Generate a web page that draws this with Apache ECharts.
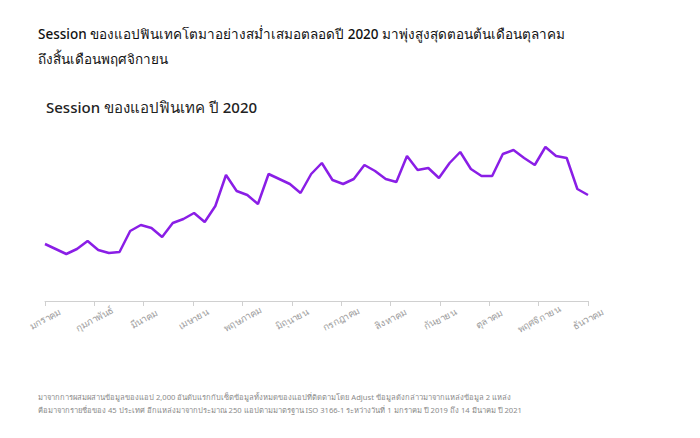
<!DOCTYPE html>
<html>
<head>
<meta charset="utf-8">
<script src="https://cdn.jsdelivr.net/npm/echarts@6/dist/echarts.min.js"></script>
<style>
  html, body { margin: 0; padding: 0; background: #fff; }
  #main { width: 700px; height: 438px; }
</style>
</head>
<body>
<div id="main"></div>
<script type="text/javascript">
// เดือน (ป้ายแกน x)
var months = ['มกราคม', 'กุมภาพันธ์', 'มีนาคม', 'เมษายน', 'พฤษภาคม', 'มิถุนายน',
  'กรกฎาคม', 'สิงหาคม', 'กันยายน', 'ตุลาคม', 'พฤศจิกายน', 'ธันวาคม'];

// session รายสัปดาห์ (ดัชนี อ่านจากภาพ)
var sessions = [57, 52, 47, 52, 60, 51, 48, 49, 70, 76, 73, 64, 78,
  82, 88, 79, 95, 126, 110, 106, 97, 127, 122, 117, 108, 127,
  138, 121, 117, 122, 136, 130, 122, 119, 145, 131, 133, 123, 138,
  149, 132, 125, 125, 147, 151, 143, 136, 154, 145, 143, 112, 106];

// สัปดาห์ที่ 1-52
var weeks = sessions.map(function(v, i) { return 'W' + (i + 1); });

var font = '"Noto Sans", "DejaVu Sans", sans-serif';

var chart = echarts.init(document.getElementById('main'), null, { renderer: 'svg' });

chart.setOption({
  animation: false,
  textStyle: { fontFamily: font },
  title: [{
    text: 'Session ของแอปฟินเทคโตมาอย่างสม่ำเสมอตลอดปี 2020 มาพุ่งสูงสุดตอนต้นเดือนตุลาคม\nถึงสิ้นเดือนพฤศจิกายน',
    left: 33,
    top: 16,
    textStyle: { fontFamily: font, fontSize: 13.5, fontWeight: 500, color: '#111', lineHeight: 25 }
  }, {
    text: 'Session ของแอปฟินเทค ปี 2020',
    left: 41,
    top: 91,
    textStyle: { fontFamily: font, fontSize: 15, fontWeight: 500, color: '#222', lineHeight: 22 }
  }, {
    text: 'มาจากการผสมผสานข้อมูลของแอป 2,000 อันดับแรกกับเซ็ตข้อมูลทั้งหมดของแอปที่ติดตามโดย Adjust ข้อมูลดังกล่าวมาจากแหล่งข้อมูล 2 แหล่ง\nคือมาจากรายชื่อของ 45 ประเทศ อีกแหล่งมาจากประมาณ 250 แอปตามมาตรฐาน ISO 3166-1 ระหว่างวันที่ 1 มกราคม ปี 2019 ถึง 14 มีนาคม ปี 2021',
    left: 33,
    top: 385,
    textStyle: { fontFamily: font, fontSize: 7.6, fontWeight: 'normal', color: '#8a8a8a', lineHeight: 13 }
  }],
  grid: { left: 45, right: 112, top: 101, bottom: 137 },
  xAxis: [{
    type: 'category',
    data: weeks,
    boundaryGap: false,
    show: false
  }, {
    type: 'category',
    data: months,
    boundaryGap: false,
    position: 'bottom',
    axisLine: { lineStyle: { color: '#d0d0d0', width: 1 } },
    axisTick: { length: 5, lineStyle: { color: '#d0d0d0' } },
    axisLabel: {
      rotate: 28,
      align: 'center',
      verticalAlign: 'middle',
      margin: 18,
      interval: 0,
      fontSize: 9.5,
      color: '#9a9a9a',
      fontFamily: font
    }
  }],
  yAxis: {
    type: 'value',
    min: 0,
    max: 200,
    show: false,
    splitLine: { show: false }
  },
  series: [{
    type: 'line',
    xAxisIndex: 0,
    data: sessions,
    showSymbol: false,
    symbol: 'none',
    lineStyle: { color: '#8a1ee6', width: 2.5 },
    itemStyle: { color: '#8a1ee6' }
  }]
});
</script>
</body>
</html>
